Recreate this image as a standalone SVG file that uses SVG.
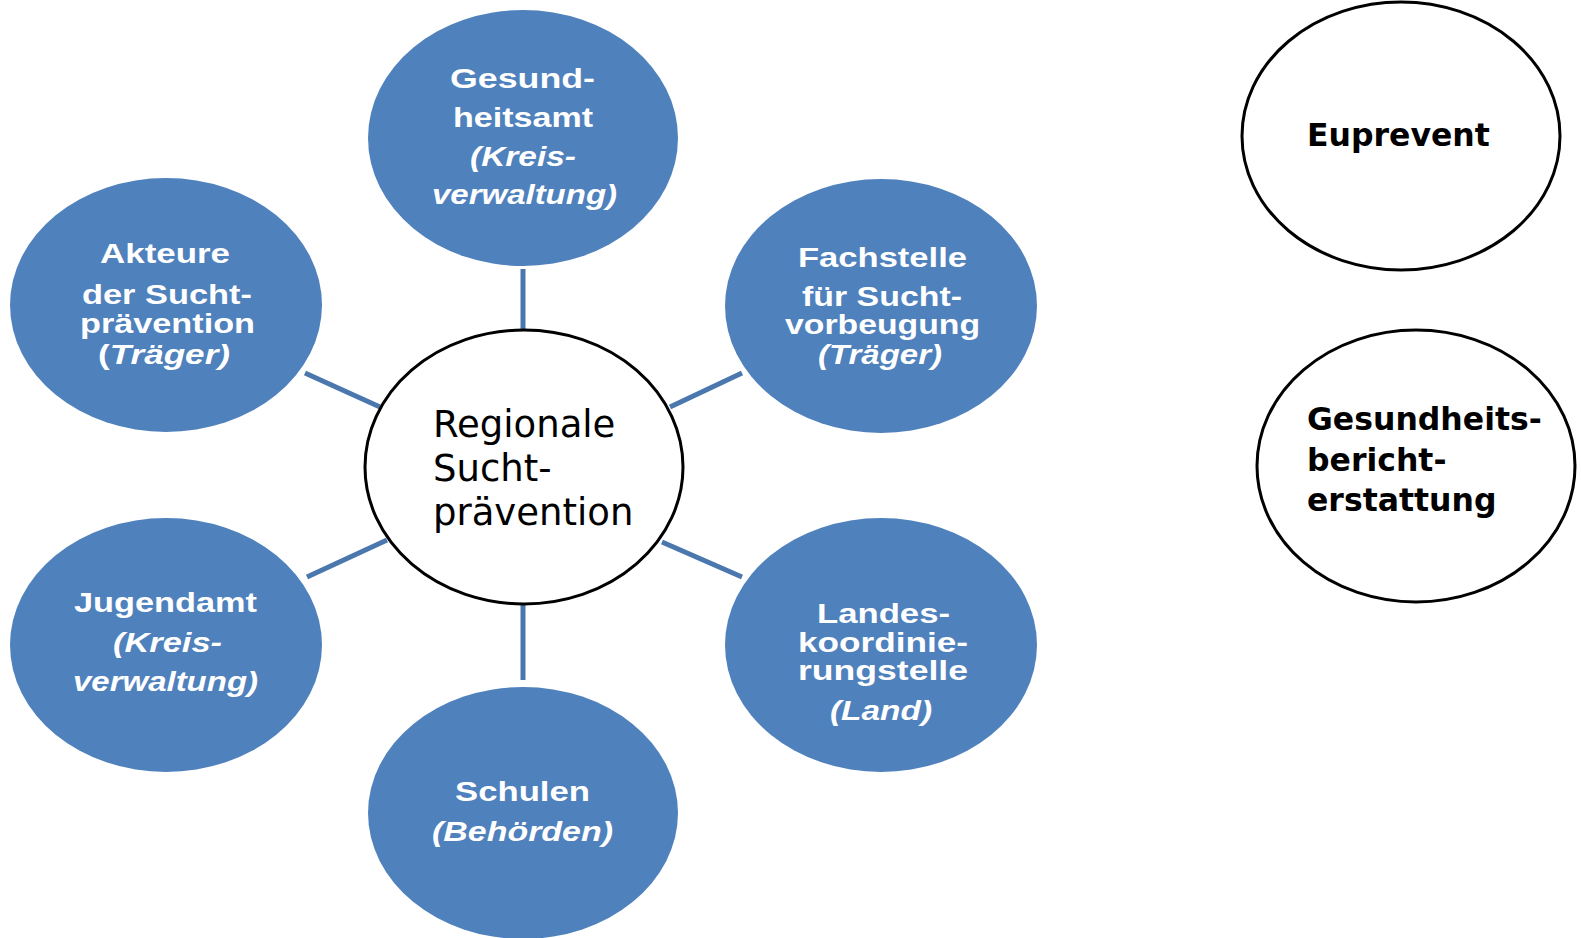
<svg xmlns="http://www.w3.org/2000/svg" width="1581" height="938" viewBox="0 0 1581 938">
<style>
.blue{fill:#4f81bd;}
.white{fill:#fff;stroke:#000;stroke-width:3;}
.conn line{stroke:#4a77ae;stroke-width:5;}
.bt{font-family:"Liberation Sans",Arial,sans-serif;font-weight:bold;font-size:28px;fill:#fff;}
.it{font-style:italic;}
.ct{font-family:"DejaVu Sans",Verdana,sans-serif;font-size:37px;fill:#000;}
.rt{font-family:"DejaVu Sans",Verdana,sans-serif;font-weight:bold;font-size:31.5px;fill:#000;}
</style>
<rect width="1581" height="938" fill="#fff"/>
<g id="connectors" class="conn">
<line x1="523" y1="269" x2="523" y2="330"/>
<line x1="305" y1="373" x2="380" y2="407"/>
<line x1="670" y1="407" x2="742" y2="373"/>
<line x1="307" y1="577" x2="387" y2="540"/>
<line x1="662" y1="542" x2="742" y2="577"/>
<line x1="523" y1="603" x2="523" y2="680"/>
</g>
<g id="gesundheitsamt">
<ellipse class="blue" cx="523" cy="138" rx="155" ry="128"/>
<text class="bt" x="450" y="88" textLength="145" lengthAdjust="spacingAndGlyphs">Gesund-</text>
<text class="bt" x="453" y="127" textLength="140" lengthAdjust="spacingAndGlyphs">heitsamt</text>
<text class="bt it" x="470" y="166" textLength="106" lengthAdjust="spacingAndGlyphs">(Kreis-</text>
<text class="bt it" x="432" y="204" textLength="185" lengthAdjust="spacingAndGlyphs">verwaltung)</text>
</g>
<g id="akteure">
<ellipse class="blue" cx="166" cy="305" rx="156" ry="127"/>
<text class="bt" x="100" y="263" textLength="130" lengthAdjust="spacingAndGlyphs">Akteure</text>
<text class="bt" x="82" y="304" textLength="170" lengthAdjust="spacingAndGlyphs">der Sucht-</text>
<text class="bt" x="80" y="333" textLength="175" lengthAdjust="spacingAndGlyphs">prävention</text>
<text class="bt" x="98" y="364" textLength="132" lengthAdjust="spacingAndGlyphs">(<tspan class="it">Träger)</tspan></text>
</g>
<g id="fachstelle">
<ellipse class="blue" cx="881" cy="306" rx="156" ry="127"/>
<text class="bt" x="798" y="267" textLength="169" lengthAdjust="spacingAndGlyphs">Fachstelle</text>
<text class="bt" x="802" y="306" textLength="160" lengthAdjust="spacingAndGlyphs">für Sucht-</text>
<text class="bt" x="785" y="334" textLength="195" lengthAdjust="spacingAndGlyphs">vorbeugung</text>
<text class="bt it" x="818" y="364" textLength="124" lengthAdjust="spacingAndGlyphs">(Träger)</text>
</g>
<g id="jugendamt">
<ellipse class="blue" cx="166" cy="645" rx="156" ry="127"/>
<text class="bt" x="74" y="612" textLength="183" lengthAdjust="spacingAndGlyphs">Jugendamt</text>
<text class="bt it" x="113" y="652" textLength="109" lengthAdjust="spacingAndGlyphs">(Kreis-</text>
<text class="bt it" x="73" y="691" textLength="185" lengthAdjust="spacingAndGlyphs">verwaltung)</text>
</g>
<g id="landeskoordinierungsstelle">
<ellipse class="blue" cx="881" cy="645" rx="156" ry="127"/>
<text class="bt" x="817" y="623" textLength="133" lengthAdjust="spacingAndGlyphs">Landes-</text>
<text class="bt" x="798" y="652" textLength="170" lengthAdjust="spacingAndGlyphs">koordinie-</text>
<text class="bt" x="798" y="680" textLength="170" lengthAdjust="spacingAndGlyphs">rungstelle</text>
<text class="bt it" x="830" y="720" textLength="102" lengthAdjust="spacingAndGlyphs">(Land)</text>
</g>
<g id="schulen">
<ellipse class="blue" cx="523" cy="813" rx="155" ry="126"/>
<text class="bt" x="455" y="801" textLength="135" lengthAdjust="spacingAndGlyphs">Schulen</text>
<text class="bt it" x="432" y="841" textLength="181" lengthAdjust="spacingAndGlyphs">(Behörden)</text>
</g>
<g id="regionale-suchtpraevention">
<ellipse class="white" cx="524" cy="467" rx="159" ry="137"/>
<text class="ct" x="433" y="437">Regionale</text>
<text class="ct" x="433" y="481">Sucht-</text>
<text class="ct" x="433" y="525">prävention</text>
</g>
<g id="euprevent">
<ellipse class="white" cx="1401" cy="136" rx="159" ry="134"/>
<text class="rt" x="1307" y="146">Euprevent</text>
</g>
<g id="gesundheitsberichterstattung">
<ellipse class="white" cx="1416" cy="466" rx="159" ry="136"/>
<text class="rt" x="1307" y="430">Gesundheits-</text>
<text class="rt" x="1307" y="471">bericht-</text>
<text class="rt" x="1307" y="511">erstattung</text>
</g>
</svg>
